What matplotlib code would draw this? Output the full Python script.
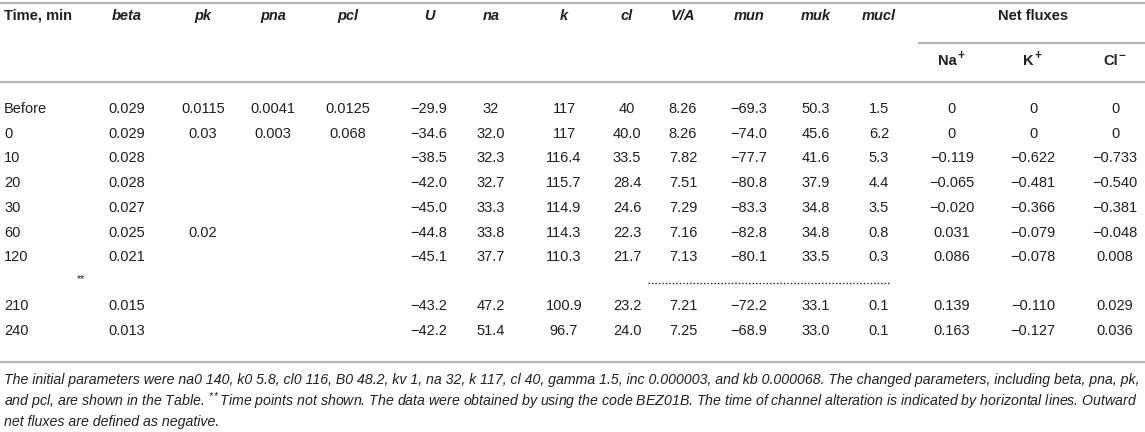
import matplotlib
matplotlib.use("Agg")
import matplotlib.pyplot as plt

plt.rcParams['font.family'] = ['Liberation Sans', 'DejaVu Sans']
plt.rcParams['mathtext.fontset'] = 'custom'
plt.rcParams['mathtext.rm'] = 'Liberation Sans:italic'
plt.rcParams['mathtext.it'] = 'Liberation Sans:italic'

# table content
columns = ["beta", "pk", "pna", "pcl", "U", "na", "k", "cl", "V/A", "mun", "muk", "mucl"]
flux_base = ["Na", "K", "Cl"]
flux_sign = ["+", "+", "\u2212"]

time = ["Before", "0", "10", "20", "30", "60", "120", "210", "240"]
beta = ["0.029", "0.029", "0.028", "0.028", "0.027", "0.025", "0.021", "0.015", "0.013"]
pk = ["0.0115", "0.03", "", "", "", "0.02", "", "", ""]
pna = ["0.0041", "0.003", "", "", "", "", "", "", ""]
pcl = ["0.0125", "0.068", "", "", "", "", "", "", ""]
U = ["\u221229.9", "\u221234.6", "\u221238.5", "\u221242.0", "\u221245.0", "\u221244.8", "\u221245.1", "\u221243.2", "\u221242.2"]
na = ["32", "32.0", "32.3", "32.7", "33.3", "33.8", "37.7", "47.2", "51.4"]
k = ["117", "117", "116.4", "115.7", "114.9", "114.3", "110.3", "100.9", "96.7"]
cl = ["40", "40.0", "33.5", "28.4", "24.6", "22.3", "21.7", "23.2", "24.0"]
VA = ["8.26", "8.26", "7.82", "7.51", "7.29", "7.16", "7.13", "7.21", "7.25"]
mun = ["\u221269.3", "\u221274.0", "\u221277.7", "\u221280.8", "\u221283.3", "\u221282.8", "\u221280.1", "\u221272.2", "\u221268.9"]
muk = ["50.3", "45.6", "41.6", "37.9", "34.8", "34.8", "33.5", "33.1", "33.0"]
mucl = ["1.5", "6.2", "5.3", "4.4", "3.5", "0.8", "0.3", "0.1", "0.1"]
flux_na = ["0", "0", "\u22120.119", "\u22120.065", "\u22120.020", "0.031", "0.086", "0.139", "0.163"]
flux_k = ["0", "0", "\u22120.622", "\u22120.481", "\u22120.366", "\u22120.079", "\u22120.078", "\u22120.110", "\u22120.127"]
flux_cl = ["0", "0", "\u22120.733", "\u22120.540", "\u22120.381", "\u22120.048", "0.008", "0.029", "0.036"]

caption = [
    "The initial parameters were na0 140, k0 5.8, cl0 116, B0 48.2, kv 1, na 32, k 117, cl 40, gamma 1.5, "
    "inc 0.000003, and kb 0.000068. The changed parameters, including beta, pna, pk,",
    "and pcl, are shown in the Table. $^{**}$Time points not shown. The data were obtained by using the code "
    "BEZ01B. The time of channel alteration is indicated by horizontal lines. Outward",
    "net fluxes are defined as negative.",
]

values = [beta, pk, pna, pcl, U, na, k, cl, VA, mun, muk, mucl, flux_na, flux_k, flux_cl]

# layout (pixels)
W, H = 1145, 432
col_x = [127, 203, 273, 348, 429, 491, 564, 627, 683, 749, 816, 879, 952, 1033, 1115]
row_y = [109, 134, 158, 183, 208, 233, 257, 306, 331]
txt = "#231f20"
line_c = "#b5b5b5"
fs = 10.5

fig = plt.figure(figsize=(W / 100, H / 100), dpi=100)
ax = fig.add_axes([0, 0, 1, 1])
ax.set_xlim(0, W)
ax.set_ylim(H, 0)
ax.axis("off")

# rules
for y in [3, 82, 362]:
    ax.plot([0, W], [y, y], color=line_c, lw=1.6, solid_capstyle="butt")
ax.plot([918, W], [43, 43], color=line_c, lw=1.6, solid_capstyle="butt")
ax.plot([648, 890], [283, 283], color=txt, lw=1.0, ls=(0, (1, 1.5)))

# header
ax.text(4, 16, "Time, min", fontsize=fs, fontweight="bold", color=txt, ha="left", va="center")
for x, name in zip(col_x, columns):
    ax.text(x, 16, name, fontsize=fs, fontweight="bold", fontstyle="italic", color=txt,
            ha="center", va="center")
ax.text(1033, 16, "Net fluxes", fontsize=fs, fontweight="bold", color=txt, ha="center", va="center")
shift = [5, 1, 3]
for x, base, sign, dx in zip(col_x[12:], flux_base, flux_sign, shift):
    ax.text(x + dx, 61, base, fontsize=fs, fontweight="bold", color=txt, ha="right", va="center")
    ax.text(x + dx + 0.5, 56, sign, fontsize=8.5, fontweight="bold", color=txt, ha="left", va="center")

# body
for i, y in enumerate(row_y):
    ax.text(4, y, time[i], fontsize=fs, color=txt, ha="left", va="center")
    for x, col in zip(col_x, values):
        if col[i]:
            ax.text(x, y, col[i], fontsize=fs, color=txt, ha="center", va="center")
ax.text(81, 279, "**", fontsize=7.5, color=txt, ha="center", va="center")

# caption
for j, line in enumerate(caption):
    ax.text(4, 380 + 21 * j, line, fontsize=10.15, fontstyle="italic", color=txt,
            ha="left", va="center")

fig.savefig("out.png", dpi=100)
